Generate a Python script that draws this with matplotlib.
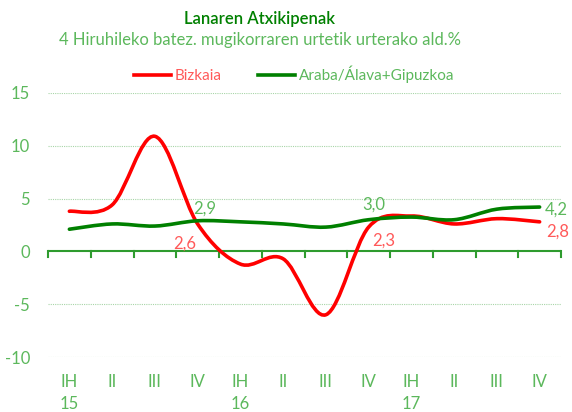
import matplotlib
matplotlib.use("Agg")
import matplotlib.pyplot as plt
from matplotlib.path import Path
from matplotlib.patches import PathPatch
import numpy as np

plt.rcParams['font.family'] = ['Lato', 'DejaVu Sans']

quarters = ["IH", "II", "III", "IV", "IH", "II", "III", "IV", "IH", "II", "III", "IV"]
years = ["15", "", "", "", "16", "", "", "", "17", "", "", ""]
bizkaia = [3.8, 4.4, 10.9, 2.6, -1.2, -0.7, -6.0, 2.3, 3.35, 2.6, 3.1, 2.8]
araba_gipuzkoa = [2.1, 2.6, 2.4, 2.9, 2.8, 2.6, 2.3, 3.0, 3.25, 3.0, 4.0, 4.2]

title = "Lanaren Atxikipenak"
subtitle = "4 Hiruhileko batez. mugikorraren urtetik urterako ald.%"

RED = "#FF0000"
GREEN = "#008000"
TXT_GREEN = "#5CB85C"
TXT_RED = "#FF5A5A"

fig = plt.figure(figsize=(5.72, 4.12), dpi=100)
ax = fig.add_axes([48/572, 1-357/412, (561-48)/572, (357-93)/412])

x = np.arange(len(quarters))


def smooth_path(xs, ys, t=1.0):
    pts = np.column_stack([xs, ys]).astype(float)
    n = len(pts)
    verts = [pts[0]]
    codes = [Path.MOVETO]
    for i in range(n - 1):
        p0 = pts[i - 1] if i > 0 else pts[i]
        p1 = pts[i]
        p2 = pts[i + 1]
        p3 = pts[i + 2] if i + 2 < n else pts[i + 1]
        c1 = p1 + (p2 - p0) / 6 * t
        c2 = p2 - (p3 - p1) / 6 * t
        verts += [c1, c2, p2]
        codes += [Path.CURVE4] * 3
    return Path(verts, codes)


for data, col, lab in [(bizkaia, RED, "Bizkaia"), (araba_gipuzkoa, GREEN, "Araba/Álava+Gipuzkoa")]:
    patch = PathPatch(smooth_path(x, data), facecolor="none", edgecolor=col, lw=2.6,
                      capstyle="round", joinstyle="round", zorder=3)
    ax.add_patch(patch)
    ax.plot([], [], color=col, lw=2.6, label=lab)

ax.set_xlim(-0.5, len(quarters) - 0.5)
ax.set_ylim(-10, 15)
ax.set_yticks([-10, -5, 0, 5, 10, 15])
ax.set_yticklabels(["-10", "-5", "0", "5", "10", "15"])
for yv in [-10, -5, 5, 10, 15]:
    ax.axhline(yv, color="#A8D5A8", lw=0.8, ls=(0, (1, 1)), zorder=1)
ax.axhline(0, color="#2E9B2E", lw=1.5, zorder=2)
for xb in np.arange(-0.5, len(quarters), 1.0):
    ax.plot([xb, xb], [0, -0.55], color="#2E9B2E", lw=1.5, zorder=2, clip_on=False)

for s in ax.spines.values():
    s.set_visible(False)
ax.tick_params(axis="y", length=0, labelcolor=TXT_GREEN, labelsize=12, pad=13)
ax.set_xticks(x)
ax.set_xticklabels([q + ("\n" + y if y else "") for q, y in zip(quarters, years)],
                   color=TXT_GREEN, fontsize=12, linespacing=1.45, va="top")
ax.tick_params(axis="x", length=0, pad=12)

# data labels
ax.annotate("2,9", (3, araba_gipuzkoa[3]), xytext=(-3, 9), textcoords="offset points",
            ha="left", va="center", color=TXT_GREEN, fontsize=12)
ax.annotate("2,6", (3, bizkaia[3]), xytext=(-9, -14), textcoords="offset points",
            ha="center", va="center", color=TXT_RED, fontsize=12)
ax.annotate("3,0", (7, araba_gipuzkoa[7]), xytext=(4, 11), textcoords="offset points",
            ha="center", va="center", color=TXT_GREEN, fontsize=12)
ax.annotate("2,3", (7, bizkaia[7]), xytext=(11, -10), textcoords="offset points",
            ha="center", va="center", color=TXT_RED, fontsize=12)
ax.annotate("4,2", (11, araba_gipuzkoa[11]), xytext=(3.5, -1.5), textcoords="offset points",
            ha="left", va="center", color=TXT_GREEN, fontsize=12)
ax.annotate("2,8", (11, bizkaia[11]), xytext=(5, -7), textcoords="offset points",
            ha="left", va="center", color=TXT_RED, fontsize=12)

fig.text(260/572, 1-19/412, title, ha="center", va="center", color=GREEN,
         fontsize=12, fontweight="semibold")
fig.text(260/572, 1-40/412, subtitle, ha="center", va="center", color=TXT_GREEN, fontsize=12)

leg = fig.legend(loc="center", bbox_to_anchor=(294/572, 1-74.5/412), ncol=2, frameon=False,
                 fontsize=11, handlelength=2.4, handletextpad=0.25, columnspacing=2.4)
for t, c in zip(leg.get_texts(), [TXT_RED, TXT_GREEN]):
    t.set_color(c)

fig.savefig("out.png", dpi=100)
